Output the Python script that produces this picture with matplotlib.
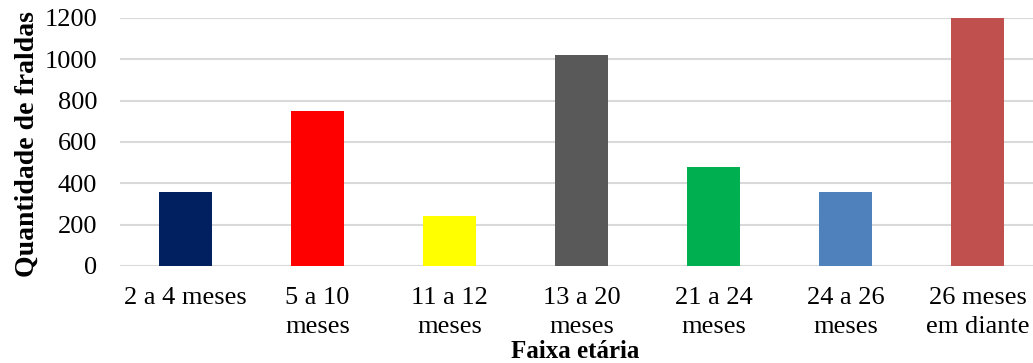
import matplotlib
matplotlib.use("Agg")
import matplotlib.pyplot as plt

categories = ["2 a 4 meses", "5 a 10\nmeses", "11 a 12\nmeses", "13 a 20\nmeses",
              "21 a 24\nmeses", "24 a 26\nmeses", "26 meses\nem diante"]
values = [360, 750, 240, 1020, 480, 360, 1200]
colors = ["#002060", "#FF0000", "#FFFF00", "#595959", "#00B050", "#4F81BD", "#C0504D"]
yticks = [0, 200, 400, 600, 800, 1000, 1200]

plt.rcParams["font.family"] = ["Liberation Serif", "DejaVu Serif"]

W, H = 1033, 363
fig = plt.figure(figsize=(W / 100, H / 100), dpi=100)
ax = fig.add_axes([119.5 / W, 97 / H, (W - 119.5) / W, 248 / H])

x = list(range(len(categories)))
ax.bar(x, values, width=0.4, color=colors, zorder=3)

ax.set_ylim(0, 1200)
ax.set_xlim(-0.5, 6.42)
ax.set_yticks(yticks)
ax.set_xticks(x)
ax.set_xticklabels(categories, fontsize=19, linespacing=1.4)
ax.tick_params(axis="y", length=0, pad=16, labelsize=19)
ax.tick_params(axis="x", length=0, pad=15)
ax.yaxis.grid(True, color="#D9D9D9", linewidth=1.5, zorder=0)
for s in ax.spines.values():
    s.set_visible(False)

fig.text(27 / W, 1 - 144 / H, "Quantidade de fraldas", rotation=90,
         ha="center", va="center", fontsize=20, fontweight="bold")
fig.text(575 / W, 1 - 352 / H, "Faixa etária", ha="center", va="center",
         fontsize=18, fontweight="bold")

fig.savefig("out.png", dpi=100)
